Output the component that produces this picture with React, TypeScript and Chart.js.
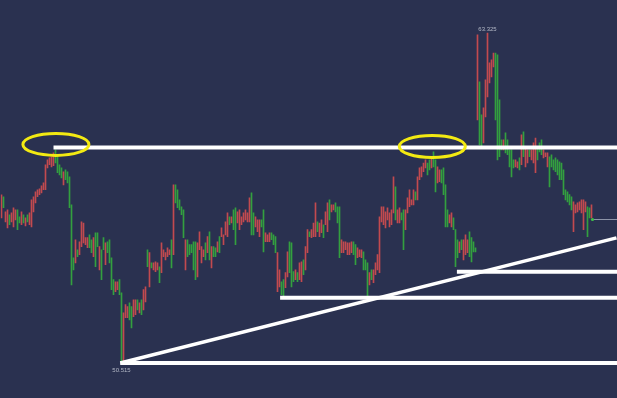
import { useEffect, useRef } from 'react';
import { Chart, registerables } from 'chart.js';

Chart.register(...registerables);

// ---- data (prices) ----
const highs = [
  57.04, 56.97, 56.38, 56.46, 56.27, 56.34, 56.54, 56.46, 56.46, 56.19,
  56.38, 56.27, 56.15, 56.27, 56.34, 56.85, 56.97, 57.16, 57.24, 57.28,
  57.39, 57.51, 58.21, 58.40, 58.48, 58.52, 58.67, 58.79, 58.60, 58.21,
  58.09, 57.94, 58.01, 57.94, 57.74, 56.65, 54.60, 55.30, 54.91, 55.22,
  55.99, 55.95, 55.38, 55.38, 55.49, 55.30, 55.38, 55.57, 55.57, 55.03,
  54.91, 55.38, 55.18, 55.22, 55.30, 54.60, 53.75, 53.67, 53.67, 53.75,
  53.24, 52.46, 52.78, 52.70, 52.85, 52.70, 52.97, 52.97, 52.97, 52.85,
  52.97, 53.36, 53.47, 54.91, 54.80, 54.40, 54.40, 54.44, 54.40, 54.25,
  55.18, 54.91, 54.80, 54.99, 54.91, 55.30, 57.43, 57.43, 57.24, 56.85,
  56.58, 56.46, 55.30, 55.30, 55.11, 55.11, 55.22, 55.22, 55.18, 55.61,
  55.03, 54.91, 55.18, 55.42, 55.61, 55.03, 55.03, 54.99, 55.22, 55.42,
  55.76, 55.49, 55.99, 56.34, 56.19, 56.19, 56.46, 56.54, 56.38, 56.46,
  56.19, 56.34, 56.46, 56.34, 56.93, 57.12, 56.34, 56.19, 56.07, 56.07,
  56.07, 56.46, 55.57, 55.49, 55.57, 55.57, 55.49, 55.42, 54.80, 54.13,
  53.67, 53.75, 54.02, 54.83, 55.22, 55.18, 54.06, 54.13, 54.02, 54.40,
  54.44, 54.52, 55.03, 55.69, 55.61, 55.69, 55.95, 56.73, 55.99, 55.95,
  56.07, 55.88, 56.38, 56.73, 56.85, 56.65, 56.65, 56.73, 56.58, 56.58,
  55.30, 55.22, 55.22, 55.18, 55.18, 55.22, 55.22, 55.11, 54.99, 54.91,
  54.91, 54.83, 54.52, 54.40, 54.02, 54.13, 54.13, 54.40, 54.72, 56.19,
  56.58, 56.58, 56.38, 56.54, 56.34, 56.46, 57.74, 57.35, 56.46, 56.54,
  56.34, 56.46, 56.46, 56.93, 57.24, 56.85, 57.24, 57.16, 57.74, 58.09,
  58.13, 58.28, 58.40, 58.28, 58.40, 58.52, 58.71, 58.40, 58.13, 58.01,
  58.01, 58.09, 57.43, 56.46, 56.27, 56.34, 56.15, 55.69, 55.30, 55.22,
  55.30, 55.30, 55.49, 55.30, 55.61, 55.38, 55.22, 54.99, 63.25, 61.43,
  60.15, 60.42, 61.51, 63.325, 62.17, 62.28, 62.55, 62.55, 62.48, 60.73,
  59.18, 59.18, 59.45, 59.18, 58.79, 58.79, 58.40, 58.40, 58.32, 58.48,
  59.37, 59.49, 58.91, 58.79, 58.79, 58.79, 59.06, 59.25, 58.87, 59.06,
  59.18, 58.79, 58.67, 58.67, 58.52, 58.60, 58.40, 58.48, 58.40, 58.32,
  58.28, 58.01, 57.24, 57.16, 57.05, 56.97, 56.77, 56.65, 56.73, 56.77,
  56.85, 56.85, 56.77, 56.58, 56.54, 56.65,
];

const lows = [
  56.15, 56.54, 55.99, 55.76, 55.88, 55.99, 55.80, 56.07, 55.69, 55.95,
  55.88, 55.95, 55.84, 55.99, 55.88, 55.80, 56.38, 56.73, 56.97, 57.05,
  57.12, 57.24, 57.24, 58.09, 58.21, 58.13, 58.17, 58.28, 57.90, 57.82,
  57.70, 57.43, 57.63, 57.51, 56.54, 53.55, 54.13, 54.40, 54.64, 54.72,
  55.03, 55.18, 55.11, 54.99, 54.99, 54.80, 54.64, 54.25, 55.03, 54.13,
  53.75, 54.91, 54.33, 54.80, 54.40, 53.36, 53.17, 53.28, 53.36, 53.17,
  50.515, 50.56, 52.27, 52.27, 52.19, 51.88, 52.31, 52.39, 52.58, 52.46,
  52.39, 52.58, 52.89, 54.25, 53.47, 54.21, 54.13, 54.06, 54.13, 53.63,
  54.02, 54.64, 54.52, 54.64, 54.72, 54.21, 54.72, 56.73, 56.54, 56.46,
  56.27, 55.38, 54.13, 54.64, 54.72, 54.80, 54.13, 53.75, 53.86, 54.91,
  54.40, 54.64, 54.52, 54.80, 54.52, 54.21, 54.64, 54.64, 54.83, 54.80,
  55.42, 55.11, 55.49, 55.42, 55.88, 55.95, 55.69, 55.11, 55.95, 55.69,
  55.88, 55.99, 56.07, 55.99, 55.99, 55.49, 55.49, 55.80, 55.61, 55.42,
  55.80, 54.83, 55.22, 55.22, 55.22, 55.30, 55.11, 54.80, 53.28, 53.47,
  53.17, 53.05, 53.44, 53.86, 54.02, 53.47, 53.67, 53.75, 53.67, 53.75,
  53.67, 53.94, 54.13, 54.80, 55.42, 55.38, 55.42, 55.42, 55.61, 55.42,
  55.57, 55.38, 55.88, 55.61, 56.07, 56.38, 56.46, 56.38, 55.95, 54.60,
  54.80, 54.80, 54.91, 54.72, 54.72, 54.80, 54.72, 54.33, 54.60, 54.64,
  54.60, 54.13, 54.13, 53.05, 53.55, 53.75, 53.63, 53.94, 54.13, 54.02,
  55.99, 55.88, 55.76, 56.07, 55.80, 55.88, 56.34, 56.07, 55.95, 55.95,
  56.07, 54.91, 55.69, 56.34, 56.58, 56.65, 56.65, 56.85, 56.85, 57.63,
  57.74, 57.94, 58.09, 57.82, 58.01, 58.09, 58.13, 57.16, 57.51, 57.55,
  57.51, 57.05, 55.80, 55.80, 55.95, 55.80, 55.69, 54.25, 54.60, 54.80,
  54.91, 54.52, 54.72, 54.80, 54.64, 54.44, 54.83, 54.83, 59.95, 58.98,
  58.91, 59.06, 60.07, 60.84, 61.39, 61.62, 62.01, 59.95, 58.40, 58.52,
  58.79, 58.79, 58.67, 58.60, 58.13, 57.74, 58.09, 58.13, 58.09, 58.01,
  58.21, 58.52, 58.13, 58.28, 58.52, 58.40, 58.28, 57.90, 58.40, 58.71,
  58.60, 58.48, 58.52, 58.13, 57.35, 58.13, 58.01, 57.94, 57.82, 57.63,
  57.63, 57.05, 56.85, 56.77, 56.65, 56.46, 55.61, 56.34, 56.38, 56.46,
  56.34, 55.69, 56.38, 55.42, 56.15, 56.15,
];

// r = falling bar (red), g = rising bar (green)
const directions = (
  'rgrrgrrrgg' + 'rgrgrrrrrr' + 'rrrrrrrggg' + 'grgggggrgr' + 'rrrrggrggr' +
  'ggrggggrrg' + 'grrrggrrgr' + 'grrgrgrrrg' + 'rrrrrgrggg' + 'ggrgggggrr' +
  'rrgrgrggrg' + 'rrrrgrggrr' + 'rrrrrggrrr' + 'ggrrrgggrr' + 'ggrrgggrgr' +
  'rgrrgrrrgr' + 'rgrrgrrggg' + 'rrrrrrggrr' + 'rgggrgrrrr' + 'rrrrrrrgrr' +
  'ggrrrrrgrr' + 'rrrggrggrr' + 'ggggrrgggr' + 'grrrggggrg' + 'grrrrrrggg' +
  'grgggggrrg' + 'rgrrgrrrgg' + 'grrrgggggg' + 'ggggggrrrr' + 'rrrggr'
).split('');

const slotCount = 308; // time slots across the full width (last ones empty)
const priceMin = 49.156;
const priceMax = 64.606;

// drawn lines: horizontal levels (price, starting slot)
const levelPrices = [58.88, 53.05, 54.06, 50.515];
const levelStarts = [26.0, 139.3, 227.7, 59.4];
// trend line (slot, price) -> (slot, price)
const trendFrom = [59.4, 50.515];
const trendTo = [307.5, 55.37];
// highlighted tops (slot, price)
const highlightSlots = [27.2, 215.4];
const highlightPrices = [59.0, 58.92];
// marker labels
const labelTexts = ['63.325', '50.515'];
const labelSlots = [243, 60];
const labelPrices = [63.325, 50.515];
// last price marker
const lastPrice = 56.1;
const lastSlot = 295.5;

const BG = '#2a3150';
const RED = '#c24a4f';
const GREEN = '#33a03f';

const overlay = {
  id: 'overlay',
  afterDatasetsDraw(chart: any) {
    const { ctx, scales } = chart;
    const x = scales.x;
    const y = scales.y;
    const right = chart.width;
    ctx.save();
    // horizontal levels
    ctx.strokeStyle = '#ffffff';
    ctx.lineWidth = 4;
    levelPrices.forEach((p, i) => {
      const py = y.getPixelForValue(p);
      ctx.beginPath();
      ctx.moveTo(x.getPixelForValue(levelStarts[i]), py);
      ctx.lineTo(right, py);
      ctx.stroke();
    });
    // trend line
    ctx.lineWidth = 3.5;
    ctx.beginPath();
    ctx.moveTo(x.getPixelForValue(trendFrom[0]), y.getPixelForValue(trendFrom[1]));
    ctx.lineTo(x.getPixelForValue(trendTo[0]), y.getPixelForValue(trendTo[1]));
    ctx.stroke();
    // highlight ellipses
    ctx.strokeStyle = '#f3ea12';
    ctx.lineWidth = 3;
    highlightSlots.forEach((s, i) => {
      ctx.beginPath();
      ctx.ellipse(x.getPixelForValue(s), y.getPixelForValue(highlightPrices[i]), 33, 11, 0, 0, Math.PI * 2);
      ctx.stroke();
    });
    // last price line + dot
    const ly = Math.round(y.getPixelForValue(lastPrice)) + 0.5;
    const lx = x.getPixelForValue(lastSlot);
    ctx.strokeStyle = '#8d94a8';
    ctx.lineWidth = 1;
    ctx.beginPath();
    ctx.moveTo(lx, ly);
    ctx.lineTo(right, ly);
    ctx.stroke();
    ctx.fillStyle = '#3dc04a';
    ctx.beginPath();
    ctx.arc(lx, ly, 1.6, 0, Math.PI * 2);
    ctx.fill();
    // labels
    ctx.font = '6px "Liberation Sans", Arial, sans-serif';
    ctx.fillStyle = '#b3b8c6';
    ctx.textAlign = 'center';
    ctx.textBaseline = 'alphabetic';
    labelTexts.forEach((t, i) => {
      const px = x.getPixelForValue(labelSlots[i]);
      const py = y.getPixelForValue(labelPrices[i]);
      const above = i === 0;
      ctx.fillText(t, px, above ? py - 1.5 : py + 9);
    });
    ctx.restore();
  },
};

export default function App() {
  const ref = useRef<HTMLCanvasElement>(null);
  useEffect(() => {
    document.body.style.margin = '0';
    document.body.style.background = BG;
    const labels = Array.from({ length: slotCount }, (_, i) => String(i));
    const data = highs.map((h, i) => [lows[i], h]);
    const colors = directions.map((d) => (d === 'g' ? GREEN : RED));
    const chart = new Chart(ref.current as HTMLCanvasElement, {
      type: 'bar',
      data: {
        labels,
        datasets: [
          {
            data: data as any,
            backgroundColor: colors,
            borderWidth: 0,
            barThickness: 1,
          },
        ],
      },
      options: {
        animation: false,
        responsive: false,
        layout: { padding: { left: 0.5, right: 0.5, top: 0, bottom: 0 } },
        plugins: { legend: { display: false }, tooltip: { enabled: false } },
        events: [],
        scales: {
          x: { type: 'category', display: false, offset: true, grid: { display: false } },
          y: { type: 'linear', display: false, min: priceMin, max: priceMax, grid: { display: false } },
        },
      },
      plugins: [overlay],
    });
    return () => chart.destroy();
  }, []);
  return (
    <div style={{ width: 617, height: 398, background: BG }}>
      <canvas ref={ref} width={617} height={398} style={{ display: 'block' }} />
    </div>
  );
}
